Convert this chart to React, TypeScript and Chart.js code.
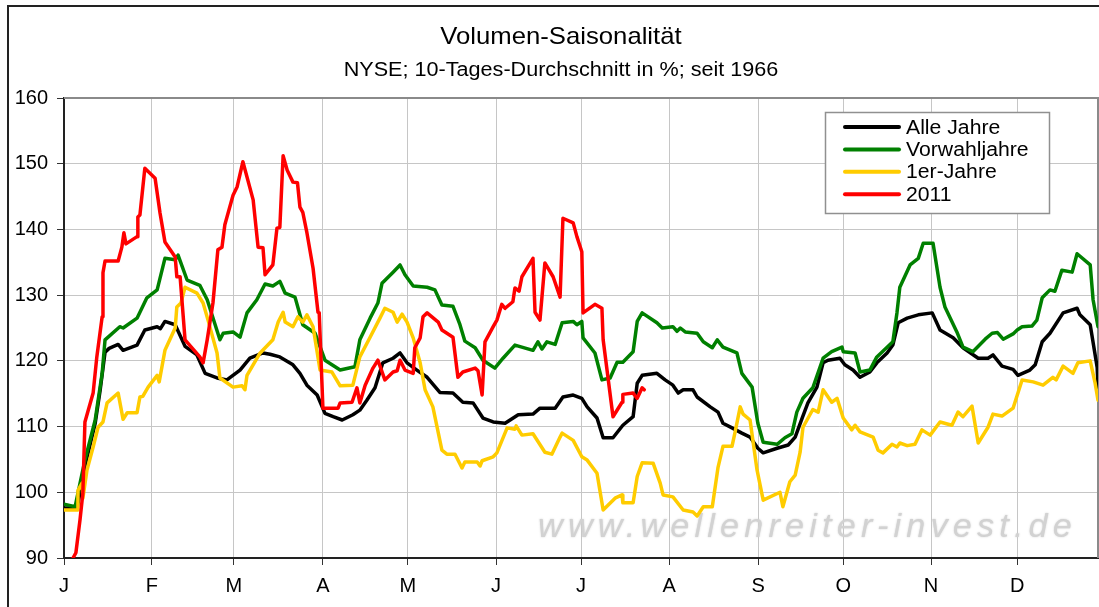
import React, { useEffect, useRef } from "react";
import { Chart, registerables } from "chart.js";

Chart.register(...registerables);

const FONT = '"Liberation Sans", Arial, sans-serif';

const chartTitle = "Volumen-Saisonalität";
const chartSubtitle = "NYSE; 10-Tages-Durchschnitt in %; seit 1966";
const watermark = "www.wellenreiter-invest.de";

// x positions (trading-day index) where each month starts, and their labels
const monthStarts = [0, 21.4, 41.4, 63.1, 83.8, 105.3, 126, 147.5, 169.2, 189.9, 211.3, 232.3];
const monthLabels = ["J", "F", "M", "A", "M", "J", "J", "A", "S", "O", "N", "D"];
const yMin = 90;
const yMax = 160;
const yStep = 10;

const seriesNames = ["Alle Jahre", "Vorwahljahre", "1er-Jahre", "2011"];
const seriesColors = ["#000000", "#008000", "#FFCC00", "#FF0000"];

// [trading day, value in %]
const alleJahre: [number, number][] = [
  [0, 97.6], [3.2, 97.6], [5.1, 104], [7.6, 110.5], [8.8, 115.5], [10.0, 121.3], [11.0, 121.9], [13.2, 122.5], [14.4, 121.6], [17.8, 122.4],
  [19.7, 124.7], [22.7, 125.2], [23.5, 124.9], [24.6, 126], [27.1, 125.5], [29.5, 122.2], [32.4, 120.9], [34.4, 118.1], [37.3, 117.4], [39.7, 117.1],
  [42.9, 118.6], [45.3, 120.4], [48.5, 121.2], [50.2, 121.0], [52.6, 120.6], [55.8, 119.4], [57.5, 118.1], [59.2, 116.3], [61.7, 114.8], [63.6, 112],
  [65.6, 111.5], [67.8, 111], [70.4, 111.8], [72.1, 112.5], [73.8, 114], [75.8, 115.9], [77.7, 119.7], [80.2, 120.4], [81.9, 121.2], [83.6, 119.7],
  [86.0, 118.6], [88.5, 117.5], [91.6, 115.2], [94.8, 115.1], [97.2, 113.7], [99.7, 113.6], [102.1, 111.3], [104.6, 110.7], [107.5, 110.5], [110.7, 111.8],
  [114.3, 111.9], [116.0, 112.8], [119.7, 112.8], [121.6, 114.5], [124.1, 114.8], [126.2, 114.3], [127.5, 113], [129.9, 111.3], [131.4, 108.3], [133.8, 108.3],
  [136.2, 110.2], [138.7, 111.5], [139.7, 116.6], [140.9, 117.8], [144.5, 118.1], [146.5, 117.1], [148.4, 116.3], [149.7, 115.1], [150.9, 115.6], [153.3, 115.6],
  [154.3, 114.5], [157.5, 113], [159.4, 112.2], [160.6, 110.5], [162.8, 109.8], [165.2, 109], [167.2, 108.4], [169.1, 106.7], [170.4, 106], [173.8, 106.7],
  [176.5, 107.2], [178.2, 108.4], [179.9, 111.3], [181.3, 113.6], [183.5, 116], [185.0, 119.7], [186.2, 120.1], [189.1, 120.4], [190.3, 119.4], [192.3, 118.6],
  [194.0, 117.5], [196.4, 118.3], [198.1, 119.7], [200.6, 121.2], [202.0, 122.4], [203.3, 125.8], [205.5, 126.5], [208.2, 127], [211.6, 127.3], [213.5, 124.7],
  [216.7, 123.5], [219.1, 122], [222.8, 120.4], [225.2, 120.4], [226.4, 120.9], [228.6, 119.2], [231.3, 118.7], [232.5, 117.8], [235.4, 118.6], [236.7, 119.4],
  [238.4, 122.9], [240.3, 124.2], [243.5, 127.3], [246.9, 128], [247.6, 127], [250.1, 125.5], [251.8, 119], [252, 116],
];

const vorwahljahre: [number, number][] = [
  [0, 98.2], [2.7, 97.8], [5.1, 104.9], [7.6, 111], [9.3, 118.1], [10.0, 123.2], [13.6, 125.2], [14.4, 125.0], [17.8, 126.5], [20.2, 129.6],
  [22.7, 130.8], [24.6, 135.6], [27.1, 135.4], [27.8, 136.1], [30.0, 132.3], [33.1, 131.5], [34.9, 129.3], [38.0, 123.2], [38.8, 124.2], [41.2, 124.4],
  [42.9, 123.6], [44.6, 127.3], [47.0, 129.3], [49.0, 131.7], [50.9, 131.4], [52.6, 132.1], [53.9, 130.3], [56.3, 129.7], [58.2, 125.5], [61.2, 124.2],
  [63.6, 120.1], [67.3, 118.6], [70.9, 119.1], [72.1, 123.2], [74.6, 126.5], [76.5, 128.8], [77.5, 131.8], [80.2, 133.5], [81.9, 134.6], [83.1, 133.1],
  [85.1, 131.4], [88.5, 131.2], [90.4, 130.8], [92.1, 128.5], [94.8, 128.3], [96.5, 125.5], [97.7, 123], [100.2, 122], [102.1, 120.1], [105.0, 118.9],
  [107.0, 120.4], [109.9, 122.4], [114.3, 121.6], [115.5, 122.9], [116.5, 121.8], [117.7, 122.9], [119.7, 122.5], [121.4, 125.8], [124.1, 126], [125.0, 125.5],
  [126.2, 126], [126.5, 123.5], [129.4, 121.2], [131.1, 117.1], [133.1, 117.4], [134.8, 119.8], [136.2, 119.8], [138.7, 121.4], [139.7, 126], [140.9, 127.3],
  [144.5, 125.8], [145.8, 125], [148.4, 125.2], [149.4, 124.5], [150.2, 125], [151.4, 124.4], [154.3, 124.2], [155.8, 122.9], [158.0, 122], [159.2, 123.2],
  [160.6, 122.1], [164.0, 121.2], [165.2, 118.1], [167.7, 116], [169.1, 110.5], [170.4, 107.6], [173.8, 107.3], [175.7, 108.3], [177.4, 108.9], [178.6, 112.2],
  [180.1, 114.3], [182.5, 115.9], [185.0, 120.4], [187.1, 121.4], [189.6, 122.1], [189.9, 121.4], [192.8, 121.2], [194.0, 118.3], [196.4, 118.6], [198.1, 120.6],
  [202.0, 122.9], [203.0, 127.3], [203.7, 131.2], [206.2, 134.6], [208.2, 135.6], [209.4, 137.9], [211.8, 137.9], [213.5, 131.2], [214.7, 128.2], [217.6, 124.4],
  [219.1, 122.1], [221.5, 121.4], [224.5, 123.3], [226.2, 124.2], [227.5, 124.3], [228.9, 123.3], [231.3, 124.1], [232.3, 124.7], [233.5, 125.2], [235.9, 125.3],
  [237.1, 126.2], [238.4, 129.6], [240.3, 130.8], [241.5, 130.6], [243.2, 133.8], [245.7, 133.5], [246.9, 136.3], [250.1, 134.6], [250.8, 129.3], [252, 125.2],
];

const ersteJahre: [number, number][] = [
  [0, 97.3], [3.2, 97.3], [3.4, 100.3], [4.4, 101.4], [4.6, 99.1], [5.6, 103.4], [7.1, 106.9], [8.3, 109.9], [9.5, 110.7], [10.5, 113.6],
  [13.2, 115.1], [14.4, 111.1], [15.4, 112.1], [17.8, 112.1], [18.5, 114.5], [19.2, 114.6], [20.5, 116], [22.7, 117.8], [23.2, 116.8], [24.6, 121.6],
  [27.1, 125], [27.5, 128.2], [28.5, 128.8], [29.5, 131.2], [32.4, 130.3], [33.9, 128.8], [35.1, 126.2], [37.3, 121.2], [38.0, 117.4], [41.2, 116],
  [43.4, 116.2], [44.1, 115.6], [44.6, 117.8], [47.8, 121.2], [50.9, 123.2], [52.2, 125.9], [53.4, 127.4], [53.9, 125.9], [55.8, 125.2], [57.0, 126.7],
  [58.2, 125.9], [59.2, 127], [60.7, 125.2], [62.4, 118.6], [65.3, 118.3], [67.3, 116.2], [70.4, 116.3], [72.1, 120.6], [74.6, 123.6], [77.0, 126.5],
  [78.2, 128], [80.2, 127.4], [81.2, 125.9], [82.4, 127.1], [83.6, 125.9], [85.1, 123.5], [86.8, 119.7], [88.0, 115.6], [89.9, 113], [92.1, 106.4],
  [93.3, 105.8], [95.3, 105.8], [97.0, 103.7], [97.7, 104.6], [100.7, 104.6], [101.4, 104], [101.9, 104.8], [104.6, 105.4], [105.5, 106], [108.0, 109.8],
  [109.9, 109.6], [110.2, 110.1], [111.6, 108.7], [114.3, 108.9], [117.2, 106.1], [118.9, 105.8], [120.9, 108.4], [121.4, 109], [124.1, 107.9], [126.2, 105.4],
  [127.5, 104.9], [129.9, 102.9], [131.4, 97.3], [134.3, 99.1], [136.0, 99.6], [136.2, 98.4], [138.7, 98.4], [139.7, 102.4], [140.9, 104.5], [143.6, 104.4],
  [145.3, 101.4], [146.0, 99.6], [148.4, 99.3], [150.9, 97.3], [153.3, 97], [154.3, 96.4], [155.8, 97.8], [158.0, 97.8], [159.4, 103.8], [160.6, 107],
  [162.8, 107], [163.5, 109], [164.8, 113], [165.5, 111.9], [167.2, 111], [168.9, 103.4], [170.4, 98.8], [174.5, 100], [175.2, 97.8], [176.9, 101.6],
  [178.2, 102.6], [179.4, 106.1], [180.1, 109.9], [182.5, 112.6], [183.8, 112.2], [185.0, 115.6], [187.1, 113.7], [188.4, 114.3], [189.9, 111.3], [192.0, 109.5],
  [192.8, 110.2], [194.0, 109.2], [197.2, 108.4], [198.4, 106.4], [199.6, 106], [201.8, 107.3], [203.0, 106.9], [203.7, 107.5], [205.5, 107.1], [207.4, 107.3],
  [209.1, 109.5], [211.1, 108.7], [213.5, 110.7], [216.4, 110.2], [217.9, 112.2], [219.1, 111.5], [221.3, 113.1], [222.8, 107.5], [225.2, 109.9], [226.4, 111.9],
  [228.6, 111.6], [231.3, 112.8], [233.5, 117.1], [236.2, 116.8], [238.6, 116.3], [241.0, 117.5], [241.8, 117.1], [243.5, 119.2], [245.9, 118.1], [247.1, 119.7],
  [250.1, 120], [251.3, 116.6], [252, 114],
];

const jahr2011: [number, number][] = [
  [2.2, 90], [2.9, 90.8], [3.9, 95.8], [4.6, 99.9], [5.1, 110.7], [7.1, 115.1], [8.0, 120.6], [9.3, 126.7], [9.5, 133.4], [10.0, 135.2],
  [13.2, 135.2], [14.1, 137.3], [14.6, 139.5], [15.1, 137.8], [17.8, 138.9], [18.0, 141.9], [18.5, 142.2], [19.7, 149.3], [22.2, 147.8], [23.4, 142.5],
  [24.6, 138.1], [27.1, 135.8], [27.5, 132.8], [28.3, 132.8], [29.5, 123.2], [33.1, 120.6], [33.9, 119.7], [34.9, 123.2], [36.3, 128.8], [37.5, 136.9],
  [38.5, 137.3], [39.2, 140.7], [41.2, 145.2], [42.2, 146.5], [43.6, 150.3], [46.1, 144.5], [47.3, 137.3], [48.5, 137.2], [49.0, 133.1], [50.9, 134.6],
  [51.9, 140.2], [52.6, 140.3], [53.4, 151.2], [54.4, 149], [55.8, 147.2], [56.9, 147.1], [57.5, 143.4], [58.2, 142.6], [59.2, 139.5], [60.7, 134.1],
  [61.9, 127.4], [62.2, 127.3], [63.1, 112.8], [66.8, 112.8], [67.3, 113.6], [70.2, 113.7], [71.4, 115.9], [72.1, 113.6], [73.4, 116.3], [75.3, 118.9],
  [76.5, 120.1], [78.2, 117.1], [80.2, 118.3], [81.2, 118.5], [81.9, 120.1], [83.1, 118.6], [85.1, 118.1], [85.5, 122], [86.8, 123.5], [87.5, 126.7],
  [88.5, 127.3], [91.2, 125.9], [92.1, 124.7], [94.8, 123.6], [96.0, 117.5], [97.2, 118.3], [100.2, 118.9], [100.9, 118.5], [101.9, 114.8], [102.6, 122.9],
  [104.6, 125.2], [105.5, 126.2], [106.7, 128.6], [107.5, 128], [109.4, 129], [109.9, 131.1], [110.9, 130.6], [111.6, 132.8], [114.3, 135.6], [114.8, 127.4],
  [116.0, 126.2], [117.2, 134.9], [119.2, 132.8], [120.9, 129.7], [121.6, 141.7], [124.1, 141], [125.0, 138.9], [126.2, 136.6], [126.5, 127.3], [129.4, 128.6],
  [131.1, 128], [131.4, 123.2], [133.8, 111.5], [136.0, 113.7], [136.2, 114.9], [138.7, 115.1], [139.7, 114.3], [140.9, 115.9], [141.4, 115.6],
];

const allSeries = [alleJahre, vorwahljahre, ersteJahre, jahr2011];

function drawStretched(ctx: CanvasRenderingContext2D, text: string, x: number, y: number, font: string, sx: number, align: "left" | "center") {
  ctx.save();
  ctx.font = font;
  ctx.textBaseline = "middle";
  ctx.textAlign = align;
  ctx.translate(x, y);
  ctx.scale(sx, 1);
  ctx.fillText(text, 0, 0);
  ctx.restore();
}

const decorPlugin = {
  id: "decor",
  beforeDatasetsDraw(chart: any) {
    const { ctx, chartArea: a } = chart;
    ctx.save();
    // plot frame (top / right)
    ctx.strokeStyle = "#8a8a8a";
    ctx.lineWidth = 2;
    ctx.beginPath();
    ctx.moveTo(a.left, a.top);
    ctx.lineTo(a.right, a.top);
    ctx.lineTo(a.right, a.bottom);
    ctx.stroke();
    // watermark
    ctx.font = `italic 33px ${FONT}`;
    (ctx as any).letterSpacing = "5px";
    const w = ctx.measureText(watermark).width;
    ctx.translate(538, 537);
    ctx.scale(539 / w, 1);
    ctx.fillStyle = "#d2d2d2";
    ctx.shadowColor = "rgba(205,205,205,0.9)";
    ctx.shadowBlur = 2;
    ctx.textAlign = "left";
    ctx.textBaseline = "alphabetic";
    ctx.fillText(watermark, 0, 0);
    ctx.restore();
  },
  afterDatasetsDraw(chart: any) {
    const { ctx } = chart;
    ctx.save();
    // legend box
    ctx.fillStyle = "#ffffff";
    ctx.fillRect(825, 112, 224, 102);
    ctx.strokeStyle = "#909090";
    ctx.lineWidth = 1.5;
    ctx.strokeRect(825.5, 112.5, 224, 101);
    seriesNames.forEach((name, i) => {
      const y = 127 + i * 22.4;
      ctx.strokeStyle = seriesColors[i];
      ctx.lineWidth = 4;
      ctx.lineCap = "round";
      ctx.beginPath();
      ctx.moveTo(845, y);
      ctx.lineTo(899, y);
      ctx.stroke();
      ctx.fillStyle = "#000000";
      drawStretched(ctx, name, 906, y + 1, `20px ${FONT}`, 1.06, "left");
    });
    ctx.restore();
  },
  afterDraw(chart: any) {
    const { ctx } = chart;
    ctx.save();
    ctx.fillStyle = "#000000";
    drawStretched(ctx, chartTitle, 561, 37, `24px ${FONT}`, 1.07, "center");
    drawStretched(ctx, chartSubtitle, 561, 70, `20px ${FONT}`, 1.08, "center");
    // outer frame
    ctx.strokeStyle = "#222222";
    ctx.lineWidth = 2;
    ctx.beginPath();
    ctx.moveTo(8, 607);
    ctx.lineTo(8, 6);
    ctx.lineTo(1099, 6);
    ctx.stroke();
    ctx.restore();
  },
};

export default function App() {
  const ref = useRef<HTMLCanvasElement | null>(null);

  useEffect(() => {
    if (!ref.current) return;
    const chart = new Chart(ref.current, {
      type: "line",
      data: {
        datasets: allSeries.map((s, i) => ({
          label: seriesNames[i],
          data: s.map(([x, y]) => ({ x, y })),
          borderColor: seriesColors[i],
          backgroundColor: seriesColors[i],
          borderWidth: 3.5,
          pointRadius: 0,
          tension: 0,
          fill: false,
          borderJoinStyle: "round" as const,
          borderCapStyle: "round" as const,
          order: 4 - i,
        })),
      },
      options: {
        responsive: false,
        animation: false,
        devicePixelRatio: 1,
        layout: { padding: { top: 98, left: 0, right: 1, bottom: 0 } },
        plugins: {
          legend: { display: false },
          tooltip: { enabled: false },
          title: { display: false },
        },
        scales: {
          x: {
            type: "linear",
            min: 0,
            max: 252,
            afterBuildTicks: (scale: any) => {
              scale.ticks = monthStarts.map((v) => ({ value: v }));
            },
            afterFit: (scale: any) => {
              scale.height = 49;
            },
            ticks: {
              autoSkip: false,
              maxRotation: 0,
              padding: 9,
              color: "#000000",
              font: { family: FONT, size: 20 },
              callback: (_v: any, i: number) => monthLabels[i],
            },
            grid: {
              color: "#c6c6c6",
              lineWidth: 1,
              tickLength: 7,
              tickColor: "#333333",
            },
            border: { display: true, color: "#222222", width: 2 },
          },
          y: {
            min: yMin,
            max: yMax,
            afterFit: (scale: any) => {
              scale.width = 64;
            },
            ticks: {
              stepSize: yStep,
              padding: 9,
              color: "#000000",
              font: { family: FONT, size: 20 },
            },
            grid: {
              color: "#c6c6c6",
              lineWidth: 1,
              tickLength: 7,
              tickColor: "#333333",
            },
            border: { display: true, color: "#222222", width: 2 },
          },
        },
      },
      plugins: [decorPlugin],
    });
    return () => chart.destroy();
  }, []);

  return (
    <div style={{ position: "absolute", left: 0, top: 0, width: 1099, height: 607, overflow: "hidden", background: "#fff" }}>
      <canvas ref={ref} width={1099} height={607} style={{ display: "block" }} />
    </div>
  );
}
